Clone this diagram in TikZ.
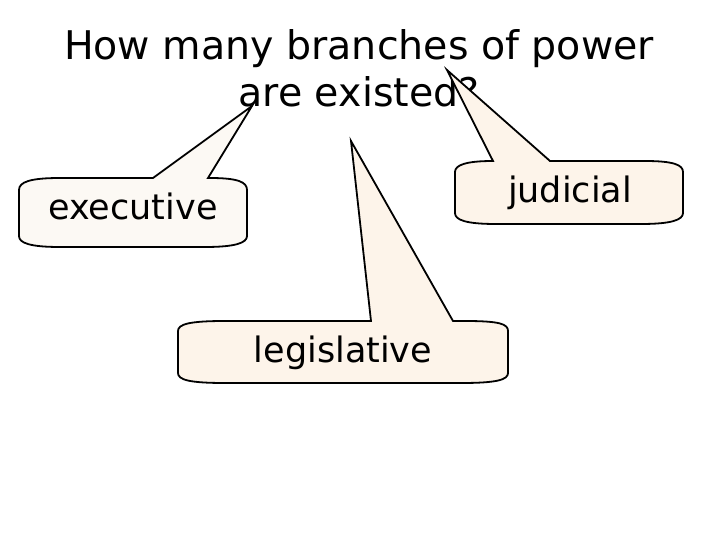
\documentclass[tikz,border=0pt]{standalone}
\usepackage{fontspec}
\setmainfont{DejaVu Sans}
\usepackage{tikz}

\definecolor{execfill}{RGB}{252,249,244}
\definecolor{bubblefill}{RGB}{253,244,234}

\tikzset{
    bubble/.style={draw=black, line width=1.8pt, line join=miter},
    question/.style={anchor=base, inner sep=0pt, font=\fontsize{39.5}{45}\selectfont},
    branch/.style={anchor=base, inner sep=0pt, font=\fontsize{35}{40}\selectfont}
}

\begin{document}
\begin{tikzpicture}[x=1pt, y=-1pt]
        \useasboundingbox[fill=white] (0,0) rectangle (720,540);

        % the question
        \node[question] at (359,60) (q1) {How many branches of power};
        \node[question] at (359,107) (q2) {are existed?};

        % tips of the pointers
        \coordinate (exectip) at (252,106);
        \coordinate (judtip) at (447,70);
        \coordinate (legtip) at (351,141);

        % executive
        \draw[bubble, fill=execfill] (19,190) .. controls (19,182) and (30,178) .. (60,178)
            -- (153,178) -- (exectip) -- (208,178) -- (210,178)
            .. controls (238,178) and (247,182) .. (247,190) -- (247,236)
            .. controls (247,243) and (235,247) .. (205,247) -- (60,247)
            .. controls (30,247) and (19,243) .. (19,236) -- cycle;
        \node[branch] at (133,220) (exec) {executive};

        % judicial
        \draw[bubble, fill=bubblefill] (455,172) .. controls (455,165) and (466,161) .. (493,161)
            -- (judtip) -- (550,161) -- (645,161)
            .. controls (674,161) and (683,165) .. (683,172) -- (683,213)
            .. controls (683,220) and (671,224) .. (641,224) -- (496,224)
            .. controls (466,224) and (455,220) .. (455,213) -- cycle;
        \node[branch] at (570,203) (jud) {judicial};

        % legislative
        \draw[bubble, fill=bubblefill] (178,331) .. controls (178,324) and (190,321) .. (225,321)
            -- (371,321) -- (legtip) -- (453,321) -- (465,321)
            .. controls (500,321) and (508,324) .. (508,331) -- (508,373)
            .. controls (508,380) and (496,383) .. (461,383) -- (225,383)
            .. controls (190,383) and (178,380) .. (178,373) -- cycle;
        \node[branch] at (343,362) (leg) {legislative};
    \end{tikzpicture}
\end{document}
